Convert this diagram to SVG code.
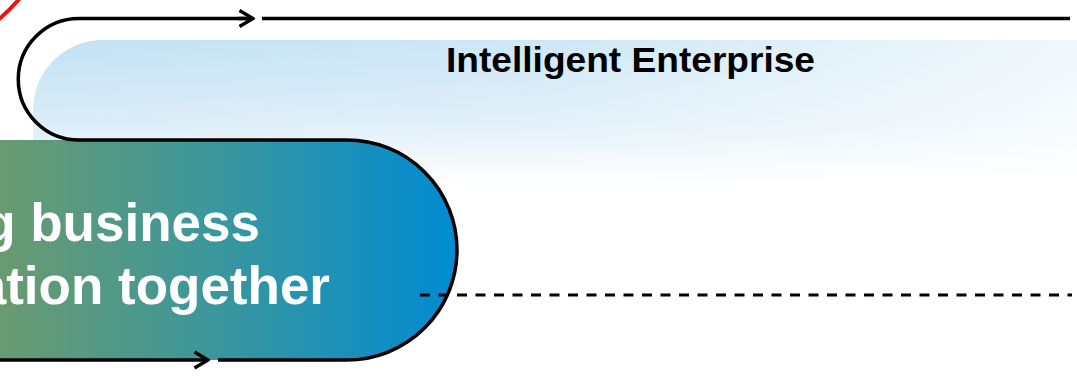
<svg xmlns="http://www.w3.org/2000/svg" width="1077" height="376" viewBox="0 0 1077 376">
  <defs>
    <linearGradient id="bandV" x1="0" y1="0" x2="0" y2="1">
      <stop offset="0" stop-color="#c1e1f3"/>
      <stop offset="0.5" stop-color="#dcedf8"/>
      <stop offset="0.85" stop-color="#ffffff"/>
    </linearGradient>
    <linearGradient id="bandH" x1="0" y1="0" x2="1" y2="0">
      <stop offset="0" stop-color="#ffffff" stop-opacity="0"/>
      <stop offset="0.45" stop-color="#ffffff" stop-opacity="0.2"/>
      <stop offset="1" stop-color="#ffffff" stop-opacity="0.85"/>
    </linearGradient>
    <linearGradient id="pill" gradientUnits="userSpaceOnUse" x1="0" y1="0" x2="457" y2="0">
      <stop offset="0" stop-color="#6a9a70"/>
      <stop offset="0.45" stop-color="#3d979a"/>
      <stop offset="1" stop-color="#008bd3"/>
    </linearGradient>
    <marker id="chev" markerWidth="18" markerHeight="20" refX="16" refY="10" orient="auto" markerUnits="userSpaceOnUse">
      <path d="M2.5 2 L16 10 L2.5 18" fill="none" stroke="#000" stroke-width="3.5" stroke-linejoin="miter"/>
    </marker>
    <style>
      .line{fill:none;stroke:#000;stroke-width:3.5}
      .dash{fill:none;stroke:#000;stroke-width:3;stroke-dasharray:10 8.5}
      .title{font-family:"Liberation Sans",Arial,sans-serif;font-weight:bold;fill:#000}
      .big{font-family:"Liberation Sans",Arial,sans-serif;font-weight:bold;fill:#fff}
    </style>
  </defs>

  <g id="enterprise-band">
    <rect x="33" y="40" width="1120" height="170" rx="70" ry="70" fill="url(#bandV)"/>
    <rect x="33" y="40" width="1120" height="170" rx="70" ry="70" fill="url(#bandH)"/>
    <text class="title" x="630.5" y="72" font-size="35" text-anchor="middle" textLength="369" lengthAdjust="spacingAndGlyphs">Intelligent Enterprise</text>
  </g>

  <g id="red-arc">
    <path d="M-3 21 Q10 10 21 -3" fill="none" stroke="#e8141c" stroke-width="4"/>
  </g>

  <g id="business-pill">
    <path d="M-10 140 H347 A110 110 0 0 1 347 360 H-10 Z" fill="url(#pill)"/>
    <text class="big" x="260" y="241" font-size="53" text-anchor="end">g business</text>
    <text class="big" x="330" y="304" font-size="53" text-anchor="end">ation together</text>
  </g>

  <g id="connectors">
    <path class="line" d="M262 18.5 H1070"/>
    <path class="line" d="M252 18.5 H79 A60.75 60.75 0 0 0 79 140 H347 A110 110 0 0 1 347 360 H218"/>
    <path class="line" d="M238 18.5 H253" marker-end="url(#chev)"/>
    <path class="line" d="M0 360 H208" marker-end="url(#chev)"/>
    <path class="dash" d="M420 295 H1072"/>
  </g>
</svg>
